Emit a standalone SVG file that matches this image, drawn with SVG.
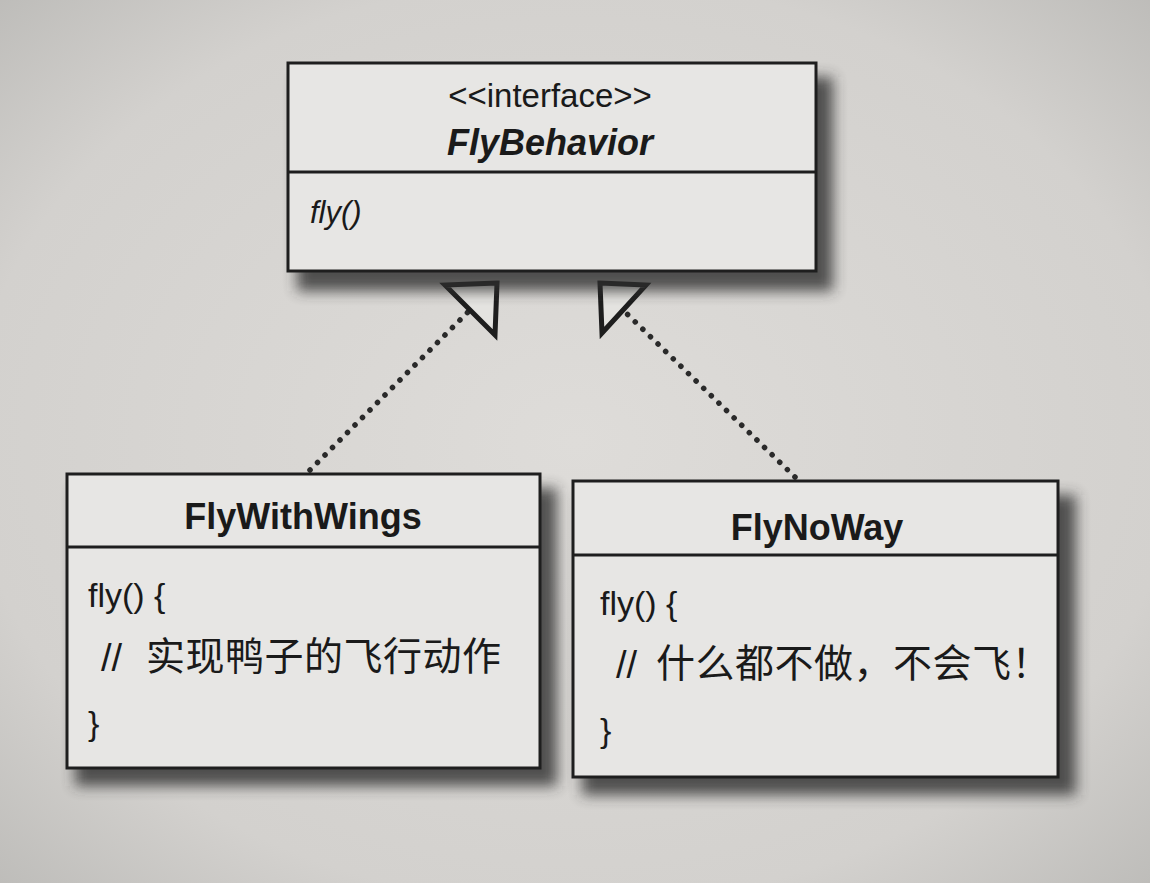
<svg xmlns="http://www.w3.org/2000/svg" width="1150" height="883" viewBox="0 0 1150 883">
<defs>
<radialGradient id="bg" cx="0.5" cy="0.5" r="0.75">
<stop offset="0" stop-color="#dedcd9"/>
<stop offset="0.7" stop-color="#d3d1ce"/>
<stop offset="1" stop-color="#b9b8b5"/>
</radialGradient>
<filter id="shadow" x="-10%" y="-10%" width="130%" height="140%">
<feGaussianBlur stdDeviation="7"/>
</filter>
<style>
.box{fill:#e7e6e4;stroke:#1e1e1e;stroke-width:3}
.shd{fill:#2e2e2e;opacity:0.8;filter:url(#shadow)}
.div{stroke:#1e1e1e;stroke-width:3}
.t{font-family:"Liberation Sans",Arial,"Noto Sans CJK SC",sans-serif;fill:#1a1a1a}
.cjk{font-family:"Noto Sans CJK SC",sans-serif;fill:#1a1a1a}
.dot{fill:none;stroke:#2a2a2a;stroke-width:5.5;stroke-linecap:round;stroke-dasharray:0.1 10.5}
.tri{fill:#e4e3e0;stroke:#1e1e1e;stroke-width:5;stroke-linejoin:miter}
</style>
</defs>
<rect width="1150" height="883" fill="url(#bg)"/>

<g id="connectors">
<line class="dot" x1="310" y1="470" x2="468" y2="312"/>
<polygon class="tri" points="497,283 445,285 495,335"/>
<line class="dot" x1="795" y1="477" x2="624" y2="311"/>
<polygon class="tri" points="600,283 646,285 602,333"/>
</g>

<g id="FlyBehavior">
<rect class="shd" x="297" y="77" width="536" height="214"/>
<rect class="box" x="288" y="63" width="528" height="208"/>
<line class="div" x1="288" y1="172" x2="816" y2="172"/>
<text class="t" x="550" y="107" font-size="33" text-anchor="middle">&lt;&lt;interface&gt;&gt;</text>
<text class="t" x="550" y="155" font-size="36" font-weight="bold" font-style="italic" text-anchor="middle">FlyBehavior</text>
<text class="t" x="310" y="223" font-size="31" font-style="italic">fly()</text>
</g>

<g id="FlyWithWings">
<rect class="shd" x="75" y="488" width="482" height="298"/>
<rect class="box" x="67" y="474" width="473" height="294"/>
<line class="div" x1="67" y1="547" x2="540" y2="547"/>
<text class="t" x="303" y="529" font-size="36" font-weight="bold" text-anchor="middle">FlyWithWings</text>
<text class="t" x="88" y="607" font-size="34">fly() {</text>
<text class="t" x="101" y="671" font-size="38">//</text>
<text class="cjk" x="146" y="670" font-size="39" letter-spacing="0.5">实现鸭子的飞行动作</text>
<text class="t" x="88" y="735" font-size="34">}</text>
</g>

<g id="FlyNoWay">
<rect class="shd" x="582" y="495" width="494" height="300"/>
<rect class="box" x="573" y="481" width="485" height="296"/>
<line class="div" x1="573" y1="555" x2="1058" y2="555"/>
<text class="t" x="817" y="540" font-size="36" font-weight="bold" text-anchor="middle">FlyNoWay</text>
<text class="t" x="600" y="615" font-size="34">fly() {</text>
<text class="t" x="616" y="678" font-size="38">//</text>
<text class="cjk" x="656" y="677" font-size="39" letter-spacing="0.5">什么都不做，不会飞！</text>
<text class="t" x="600" y="742" font-size="34">}</text>
</g>
</svg>
